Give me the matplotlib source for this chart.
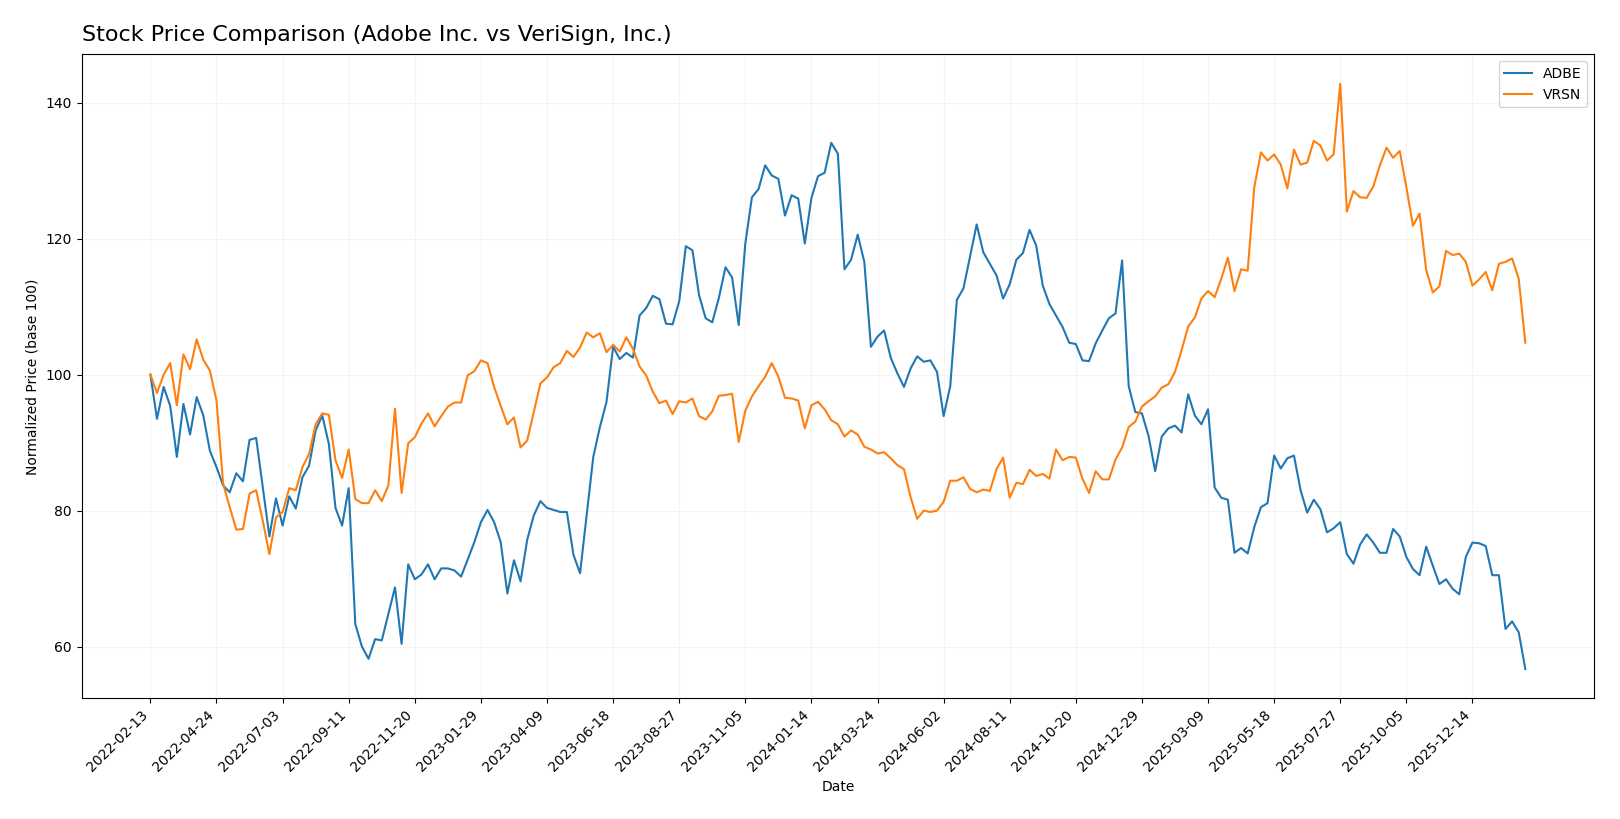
import matplotlib
matplotlib.use("Agg")
import matplotlib.pyplot as plt
import pandas as pd

# weekly closes, normalized to 100 at the first week
dates = pd.date_range("2022-02-13", periods=209, freq="7D")

adbe = [
    100, 93.5, 98.2, 95.4, 87.9, 95.7, 91.2, 96.7, 94, 88.8,
    86.4, 83.7, 82.7, 85.5, 84.3, 90.4, 90.7, 83.4, 76.2, 81.8,
    77.8, 82.1, 80.3, 84.9, 86.6, 91.8, 94, 89.8, 80.4, 77.8,
    83.3, 63.3, 60.0, 58.2, 61.1, 60.9, 64.8, 68.7, 60.4, 72.1,
    69.9, 70.6, 72.1, 69.9, 71.5, 71.5, 71.2, 70.3, 72.8, 75.35,
    78.3, 80.1, 78.3, 75.35, 67.8, 72.7, 69.6, 75.7, 79.3, 81.4,
    80.4, 80.1, 79.8, 79.8, 73.5, 70.8, 79.3, 87.9, 92.3, 96,
    104.1, 102.3, 103.2, 102.5, 108.7, 109.8, 111.6, 111.1, 107.5, 107.4,
    110.8, 118.9, 118.3, 111.7, 108.3, 107.7, 111.3, 115.8, 114.3, 107.3,
    119.3, 126.1, 127.3, 130.8, 129.3, 128.8, 123.4, 126.4, 125.9, 119.3,
    126, 129.2, 129.7, 134.1, 132.5, 115.5, 116.9, 120.6, 116.6, 104.1,
    105.6, 106.5, 102.5, 100.2, 98.2, 100.9, 102.7, 101.9, 102.1, 100.4,
    93.9, 98.3, 111, 112.7, 117.4, 122.1, 118, 116.3, 114.6, 111.2,
    113.3, 116.9, 117.9, 121.3, 119, 113.1, 110.4, 108.7, 107, 104.7,
    104.5, 102.1, 102, 104.6, 106.5, 108.3, 109, 116.8, 98.3, 94.5,
    94.3, 91, 85.8, 90.9, 92.1, 92.5, 91.5, 97.1, 94, 92.7,
    94.9, 83.4, 81.9, 81.6, 73.8, 74.5, 73.7, 77.6, 80.5, 81.1,
    88.1, 86.2, 87.7, 88.1, 83, 79.7, 81.6, 80.2, 76.8, 77.4,
    78.3, 73.6, 72.2, 75, 76.5, 75.3, 73.8, 73.8, 77.3, 76.2,
    73.2, 71.4, 70.5, 74.7, 71.9, 69.2, 69.9, 68.5, 67.7, 73.2,
    75.3, 75.2, 74.8, 70.5, 70.5, 62.6, 63.7, 62.1, 56.7,
]

vrsn = [
    100, 97.3, 100, 101.7, 95.5, 103, 100.8, 105.2, 102.2, 100.6,
    96.2, 84, 80.5, 77.2, 77.3, 82.5, 83, 78.5, 73.6, 79,
    79.8, 83.3, 83, 86.4, 88.3, 92.7, 94.3, 94.1, 87.4, 84.8,
    89, 81.7, 81.1, 81.1, 83, 81.4, 83.7, 95, 82.6, 89.9,
    90.8, 92.8, 94.3, 92.4, 93.9, 95.3, 95.9, 95.9, 99.9, 100.5,
    102.1, 101.7, 98.2, 95.4, 92.7, 93.7, 89.3, 90.3, 94.5, 98.7,
    99.6, 101.1, 101.7, 103.5, 102.6, 104, 106.2, 105.5, 106.1, 103.3,
    104.4, 103.4, 105.5, 103.8, 101.2, 99.9, 97.5, 95.8, 96.2, 94.2,
    96.1, 95.9, 96.5, 93.9, 93.4, 94.6, 96.9, 97, 97.2, 90.1,
    94.7, 96.8, 98.3, 99.7, 101.7, 99.7, 96.6, 96.5, 96.2, 92.1,
    95.5, 96, 94.9, 93.3, 92.7, 90.9, 91.8, 91.2, 89.4, 89,
    88.4, 88.6, 87.7, 86.7, 86.1, 82, 78.8, 80, 79.8, 80,
    81.3, 84.4, 84.4, 84.9, 83.2, 82.7, 83.1, 82.9, 86.1, 87.8,
    81.9, 84.1, 83.9, 86, 85.1, 85.4, 84.7, 89, 87.4, 87.9,
    87.8, 84.7, 82.6, 85.8, 84.6, 84.6, 87.5, 89.3, 92.3, 93.1,
    95.3, 96.1, 96.8, 98.1, 98.6, 100.4, 103.6, 107.1, 108.4, 111.2,
    112.3, 111.4, 114.1, 117.2, 112.3, 115.5, 115.3, 127.6, 132.7, 131.5,
    132.4, 130.9, 127.4, 133.1, 130.9, 131.2, 134.4, 133.7, 131.5, 132.4,
    142.8, 124, 127, 126.1, 126, 127.7, 130.8, 133.4, 131.9, 132.9,
    127.6, 121.9, 123.7, 115.4, 112.1, 113, 118.2, 117.6, 117.8, 116.6,
    113.1, 114, 115.1, 112.4, 116.3, 116.6, 117.1, 114.1, 104.7,
]

tick_dates = dates[::10]

fig, ax = plt.subplots(figsize=(16.2, 8.19), dpi=100)
fig.subplots_adjust(left=0.0504, right=0.984, top=0.9335, bottom=0.1474)

ax.plot(dates, adbe, label="ADBE", color="#1f77b4", linewidth=1.5)
ax.plot(dates, vrsn, label="VRSN", color="#ff7f0e", linewidth=1.5)

ax.set_xticks(tick_dates)
ax.set_xticklabels([d.strftime("%Y-%m-%d") for d in tick_dates], rotation=45, ha="right")

ax.set_title("Stock Price Comparison (Adobe Inc. vs VeriSign, Inc.)", loc="left", fontsize=16, pad=10)
ax.set_xlabel("Date")
ax.set_ylabel("Normalized Price (base 100)")
ax.grid(True, alpha=0.3, color="#dddddd")
ax.legend(loc="upper right")

fig.savefig("out.png", dpi=100)
